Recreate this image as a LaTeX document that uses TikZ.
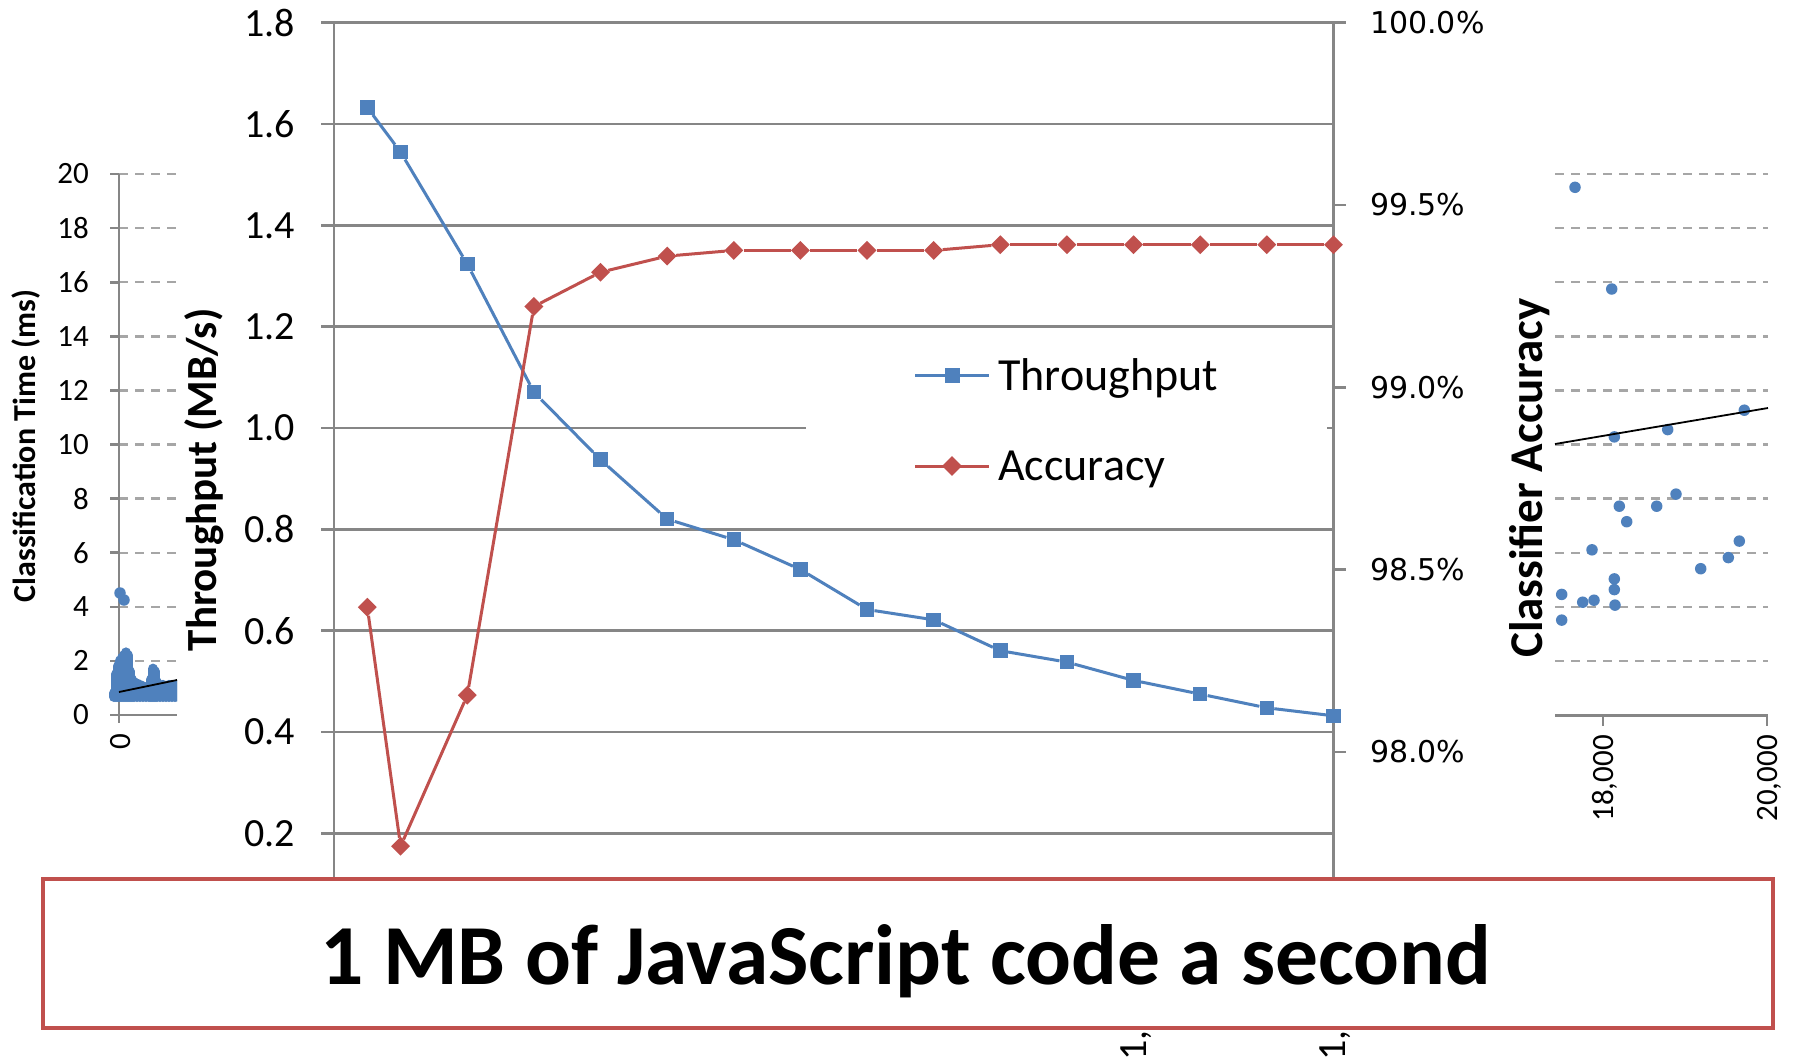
\documentclass[tikz,border=0pt]{standalone}
\usepackage{fontspec}
\setmainfont{Carlito}
\newfontfamily\dejavu{DejaVu Sans}
\usetikzlibrary{shapes.geometric}
\definecolor{xblue}{HTML}{4F81BD}
\definecolor{xred}{HTML}{C0504D}
\definecolor{gridgray}{HTML}{868686}
\definecolor{dashgray}{HTML}{A6A6A6}
\newcommand\myfs[1]{\fontsize{#1}{#1}\selectfont}
\tikzset{
  gline/.style={draw=gridgray, line width=2.6pt},
  dline/.style={draw=dashgray, line width=2.4pt, dash pattern=on 9pt off 7pt},
  sq/.style={rectangle, fill=xblue, minimum size=14.5pt, inner sep=0pt},
  dia/.style={diamond, fill=xred, minimum size=19pt, inner sep=0pt},
  dot/.style={circle, fill=xblue, minimum size=11.5pt, inner sep=0pt},
  bline/.style={draw=xblue, line width=3pt},
  rline/.style={draw=xred, line width=3pt},
  trend/.style={draw=black, line width=1.8pt},
  blob/.style={draw=xblue, line width=10pt, line cap=round},
  ticklab/.style={inner sep=0pt, font=\myfs{40}},
  minilab/.style={inner sep=0pt, font=\myfs{31}},
  pctlab/.style={inner sep=0pt, font=\dejavu\myfs{30}},
  axtitle/.style={inner sep=0pt, rotate=90, font=\bfseries},
}
\begin{document}
\begin{tikzpicture}[x=1pt,y=-1pt]
\useasboundingbox (0,0) rectangle (1793,1060);
\fill[white] (0,0) rectangle (1793,1060);

% ---------- left mini chart (Classification Time) ----------
\foreach \v/\y [count=\i] in {20/174,18/228.1,16/282.2,14/336.3,12/390.4,10/444.5,8/498.6,6/552.7,4/606.8,2/660.9}{
  \draw[dline] (119,\y) -- (177,\y);
  \draw[gline] (110,\y) -- (119,\y);
  \node[minilab, anchor=east] (ml\i) at (89,\y) {\v};
}
\node[minilab, anchor=east] (ml0) at (89,715) {0};
\draw[gline] (119,174) -- (119,723);
\draw[gline] (110,715) -- (177,715);
\node[minilab, anchor=center, rotate=90] (mx0) at (121,742) {0};
\begin{scope}
  \clip (100,560) rectangle (177,720);
  \foreach \x/\v in {114/1.0,116/1.7,118/2.0,120/2.2,122/2.3,124/2.4,126/2.5,128/2.4,130/1.8,132/1.5,134/1.4,137/1.35,140/1.3,143/1.25,146/1.2,149/1.2,151/1.5,153/1.9,155/1.8,157/1.4,160/1.3,163/1.3,166/1.25,169/1.3,172/1.3,175/1.3,178/1.3}{
    \draw[blob] (\x,697) -- (\x,{715-27.05*\v+5});
  }
\end{scope}
\node[dot] (lo1) at (120,593) {};
\node[dot] (lo2) at (124,600) {};
\coordinate (lt1) at (119,692);
\coordinate (lt2) at (177,680);
\draw[trend] (lt1) -- (lt2);
\node[axtitle, font=\bfseries\myfs{32}] (ctitle) at (26,446) {Classification Time (ms)};

% ---------- main chart ----------
\foreach \v/\y [count=\i] in {1.8/22.7,1.6/124.0,1.4/225.4,1.2/326.7,0.8/529.4,0.6/630.7,0.4/732.1,0.2/833.4}{
  \draw[gline] (321,\y) -- (1333.5,\y);
}
\draw[gline] (321,428.1) -- (806,428.1);
\draw[gline] (1327,428.1) -- (1333.5,428.1);
\foreach \v/\y [count=\i] in {1.8/22.7,1.6/124.0,1.4/225.4,1.2/326.7,1.0/428.1,0.8/529.4,0.6/630.7,0.4/732.1,0.2/833.4}{
  \node[ticklab, anchor=east] (yl\i) at (295,\y) {\v};
}
\draw[gline] (334,22.7) -- (334,880);
\draw[gline] (1333.5,22.7) -- (1333.5,880);
\foreach \p/\y [count=\i] in {100.0\%/22.7,99.5\%/205,99.0\%/387.3,98.5\%/569.6,98.0\%/751.9}{
  \draw[gline] (1333.5,\y) -- (1346,\y);
  \node[pctlab, anchor=west] (rl\i) at (1370,\y) {\p};
}
\node[axtitle, font=\bfseries\myfs{43}] (ttitle) at (204,480) {Throughput (MB/s)};

% blue series (Throughput)
\foreach \x/\y [count=\i] in {367.3/107.5,400.6/152.1,467.3/264.1,533.9/392.2,600.5/459.7,667.2/519.1,733.8/539.7,800.4/569.5,867.0/609.5,933.7/619.8,1000.3/650.7,1066.9/662.1,1133.6/680.4,1200.2/694.1,1266.8/707.8,1333.5/715.8}{
  \node[sq] (b\i) at (\x,\y) {};
}
\foreach \i [count=\j from 1] in {2,...,16}{
  \draw[bline] (b\j) -- (b\i);
}

% red series (Accuracy)
\foreach \x/\y [count=\i] in {367.3/607.2,400.6/846.2,467.3/695.2,533.9/306.5,600.5/272.2,667.2/256.1,733.8/250.4,800.4/250.4,867.0/250.4,933.7/250.4,1000.3/244.7,1066.9/244.7,1133.6/244.7,1200.2/244.7,1266.8/244.7,1333.5/244.7}{
  \node[dia] (r\i) at (\x,\y) {};
}
\foreach \i [count=\j from 1] in {2,...,16}{
  \draw[rline] (r\j) -- (r\i);
}

% legend
\coordinate (lb1) at (915,375);
\coordinate (lb2) at (989,375);
\draw[bline] (lb1) -- (lb2);
\node[sq, minimum size=15pt] (lgb) at (952,375) {};
\node[inner sep=0pt, anchor=base west, font=\myfs{46}] (lgbt) at (998,390) {Throughput};
\coordinate (lr1) at (915,466);
\coordinate (lr2) at (989,466);
\draw[rline] (lr1) -- (lr2);
\node[dia, minimum size=20pt] (lgr) at (952,466) {};
\node[inner sep=0pt, anchor=base west, font=\myfs{46}] (lgrt) at (998,480) {Accuracy};

% x tick labels peeking below the box
\node[ticklab, rotate=90, anchor=base west] (xl1) at (1146.5,1061) {1,};
\node[ticklab, rotate=90, anchor=base west] (xl2) at (1345.5,1061) {1,};

% ---------- right mini chart (Classifier Accuracy) ----------
\foreach \y in {174,228.1,282.2,336.3,390.4,444.5,498.6,552.7,606.8,660.9}{
  \draw[dline] (1555,\y) -- (1768,\y);
}
\draw[gline] (1555,715.5) -- (1768,715.5);
\draw[gline] (1603,715.5) -- (1603,726);
\draw[gline] (1767,715.5) -- (1767,726);
\node[minilab, rotate=90, anchor=east] (rx1) at (1605,735) {18,000};
\node[minilab, rotate=90, anchor=east] (rx2) at (1769,735) {20,000};
\foreach \x/\y [count=\i] in {1575/187.3,1611.7/289,1614.3/436.9,1667.7/429.6,1744.3/410.2,1619.3/506.2,1626.7/521.7,1656.7/506.2,1676/494.1,1592/549.8,1561.7/594.4,1561.7/620.1,1582.7/602.2,1594/600.2,1614.3/578.9,1614.3/589.6,1615/605.1,1700.7/568.7,1728.3/557.6,1739.3/541.1}{
  \node[dot] (d\i) at (\x,\y) {};
}
\coordinate (rt1) at (1555,444);
\coordinate (rt2) at (1768,408);
\draw[trend] (rt1) -- (rt2);
\node[axtitle, font=\bfseries\myfs{47}] (atitle) at (1530,478) {Classifier Accuracy};

% ---------- caption box ----------
\node[draw=xred, line width=4pt, fill=white, minimum width=1730pt, minimum height=149pt, inner sep=0pt, anchor=north west] (box) at (41,877) {};
\node[inner sep=0pt, anchor=base, font=\bfseries\myfs{85.5}] (title) at (906,984) {1 MB of JavaScript code a second};
\end{tikzpicture}
\end{document}
